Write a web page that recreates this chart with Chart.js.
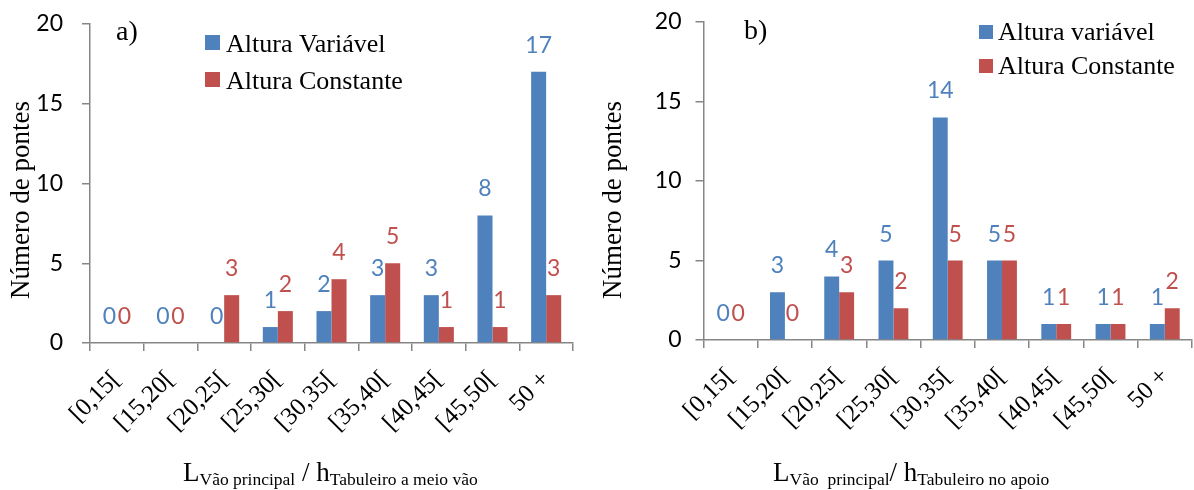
<!DOCTYPE html>
<html><head><meta charset="utf-8">
<script src="https://cdn.jsdelivr.net/npm/chart.js@4.4.0/dist/chart.umd.min.js"></script>
<style>
html,body{margin:0;padding:0;background:#fff;}
#wrap{position:relative;width:1194px;height:490px;overflow:hidden;}
.p{position:absolute;top:0;height:490px;}
#pa{left:0;width:590px;}
#pb{left:590px;width:610px;}
</style></head><body>
<div id="wrap"><div class="p" id="pa"><canvas id="ca"></canvas></div><div class="p" id="pb"><canvas id="cb"></canvas></div></div>
<script>
const categories = ['[0,15[', '[15,20[', '[20,25[', '[25,30[', '[30,35[', '[35,40[', '[40,45[', '[45,50[', '50 +'];
const variavelA = [0, 0, 0, 1, 2, 3, 3, 8, 17];
const constanteA = [0, 0, 3, 2, 4, 5, 1, 1, 3];
const variavelB = [0, 3, 4, 5, 14, 5, 1, 1, 1];
const constanteB = [0, 0, 3, 2, 5, 5, 1, 1, 2];
const labelsA = ['Altura Variável', 'Altura Constante'];
const labelsB = ['Altura variável', 'Altura Constante'];
const yTitle = 'Número de pontes';
const yMin = 0, yMax = 20, yStep = 5;

const BLUE = '#4F81BD', RED = '#C0504D', AXIS = '#868686';
const SERIF = '"Liberation Serif", "Times New Roman", serif';
const SANS = 'Lato, "Open Sans", sans-serif';

const decorPlugin = {
  id: 'decor',
  afterDatasetsDraw(chart, args, o) {
    const ctx = chart.ctx;
    ctx.save();
    // value labels above bars
    ctx.font = '23px ' + SANS;
    ctx.textAlign = 'center';
    ctx.textBaseline = 'alphabetic';
    chart.data.datasets.forEach((ds, di) => {
      const meta = chart.getDatasetMeta(di);
      meta.data.forEach((bar, i) => {
        ctx.fillStyle = ds.backgroundColor;
        ctx.fillText(String(ds.data[i]), bar.x, bar.y - o.labelGap);
      });
    });
    // y axis title
    ctx.save();
    ctx.fillStyle = '#000';
    ctx.font = '27px ' + SERIF;
    ctx.textAlign = 'center';
    ctx.textBaseline = 'middle';
    ctx.translate(o.yTitleX, o.yTitleY);
    ctx.rotate(-Math.PI / 2);
    ctx.fillText(yTitle, 0, 0);
    ctx.restore();
    // panel letter
    ctx.fillStyle = '#000';
    ctx.textAlign = 'left';
    ctx.font = '28px ' + SERIF;
    ctx.fillText(o.panel, o.panelX, o.panelY);
    // legend
    ctx.font = '26px ' + SERIF;
    chart.data.datasets.forEach((ds, di) => {
      const L = o.legend;
      ctx.fillStyle = ds.backgroundColor;
      ctx.fillRect(L.x, L.y + di * L.dy, L.size, L.size);
      ctx.fillStyle = '#000';
      ctx.fillText(ds.label, L.tx, L.ty + di * L.dy);
    });
    // x axis title with subscripts
    let x = o.title.x;
    o.title.parts.forEach(p => {
      ctx.font = p.size + 'px ' + SERIF;
      ctx.fillText(p.t, x, o.title.y + (p.dy || 0));
      x += ctx.measureText(p.t).width;
    });
    ctx.restore();
  }
};

function makeChart(id, v, c, names, cfg) {
  return new Chart(document.getElementById(id), {
    type: 'bar',
    data: {
      labels: categories,
      datasets: [
        {label: names[0], data: v, backgroundColor: BLUE, borderWidth: 0, categoryPercentage: cfg.catPct, barPercentage: 1.0},
        {label: names[1], data: c, backgroundColor: RED, borderWidth: 0, categoryPercentage: cfg.catPct, barPercentage: 1.0}
      ]
    },
    options: {
      responsive: true, maintainAspectRatio: false, animation: false,
      events: [],
      layout: {padding: {left: 0, right: cfg.padRight, top: cfg.padTop, bottom: 0}},
      plugins: {
        legend: {display: false}, tooltip: {enabled: false},
        decor: cfg.decor
      },
      scales: {
        x: {
          grid: {offset: true, drawOnChartArea: false, drawTicks: true, tickLength: 8, color: AXIS, lineWidth: 1.5},
          border: {color: AXIS, width: 1.5},
          ticks: {autoSkip: false, maxRotation: 45, minRotation: 45, color: '#000', font: {family: SERIF, size: 25}, padding: 14},
          afterFit: s => { s.height = cfg.xHeight; }
        },
        y: {
          min: yMin, max: yMax,
          ticks: {stepSize: yStep, color: '#000', font: {family: SANS, size: 23, lineHeight: 0.4}, padding: cfg.yPad},
          grid: {drawOnChartArea: false, tickLength: 8, color: AXIS, lineWidth: 1.5},
          border: {color: AXIS, width: 1.5},
          afterFit: s => { s.width = cfg.yWidth; }
        }
      }
    },
    plugins: [decorPlugin]
  });
}

makeChart('ca', variavelA, constanteA, labelsA, {
  catPct: 0.56, xHeight: 147, yWidth: 90, yPad: 19, padTop: 24, padRight: 17,
  decor: {
    labelGap: 19, panel: 'a)', panelX: 116, panelY: 40, yTitleX: 22, yTitleY: 200,
    legend: {x: 205, y: 35, size: 15, tx: 226, ty: 52, dy: 37},
    title: {x: 183, y: 481, parts: [
      {t: 'L', size: 27}, {t: 'Vão principal', size: 17.5, dy: 4},
      {t: ' / h', size: 27}, {t: 'Tabuleiro a meio vão', size: 17.5, dy: 4}]}
  }
});

makeChart('cb', variavelB, constanteB, labelsB, {
  catPct: 0.55, xHeight: 150, yWidth: 113.5, yPad: 14, padTop: 22, padRight: 0,
  decor: {
    labelGap: 19, panel: 'b)', panelX: 154, panelY: 39, yTitleX: 24, yTitleY: 200,
    legend: {x: 389, y: 25, size: 14, tx: 408, ty: 40, dy: 34},
    title: {x: 183, y: 481, parts: [
      {t: 'L', size: 27}, {t: 'Vão  principal', size: 17.5, dy: 4},
      {t: '/ h', size: 27}, {t: 'Tabuleiro no apoio', size: 17.5, dy: 4}]}
  }
});
</script>
</body></html>
